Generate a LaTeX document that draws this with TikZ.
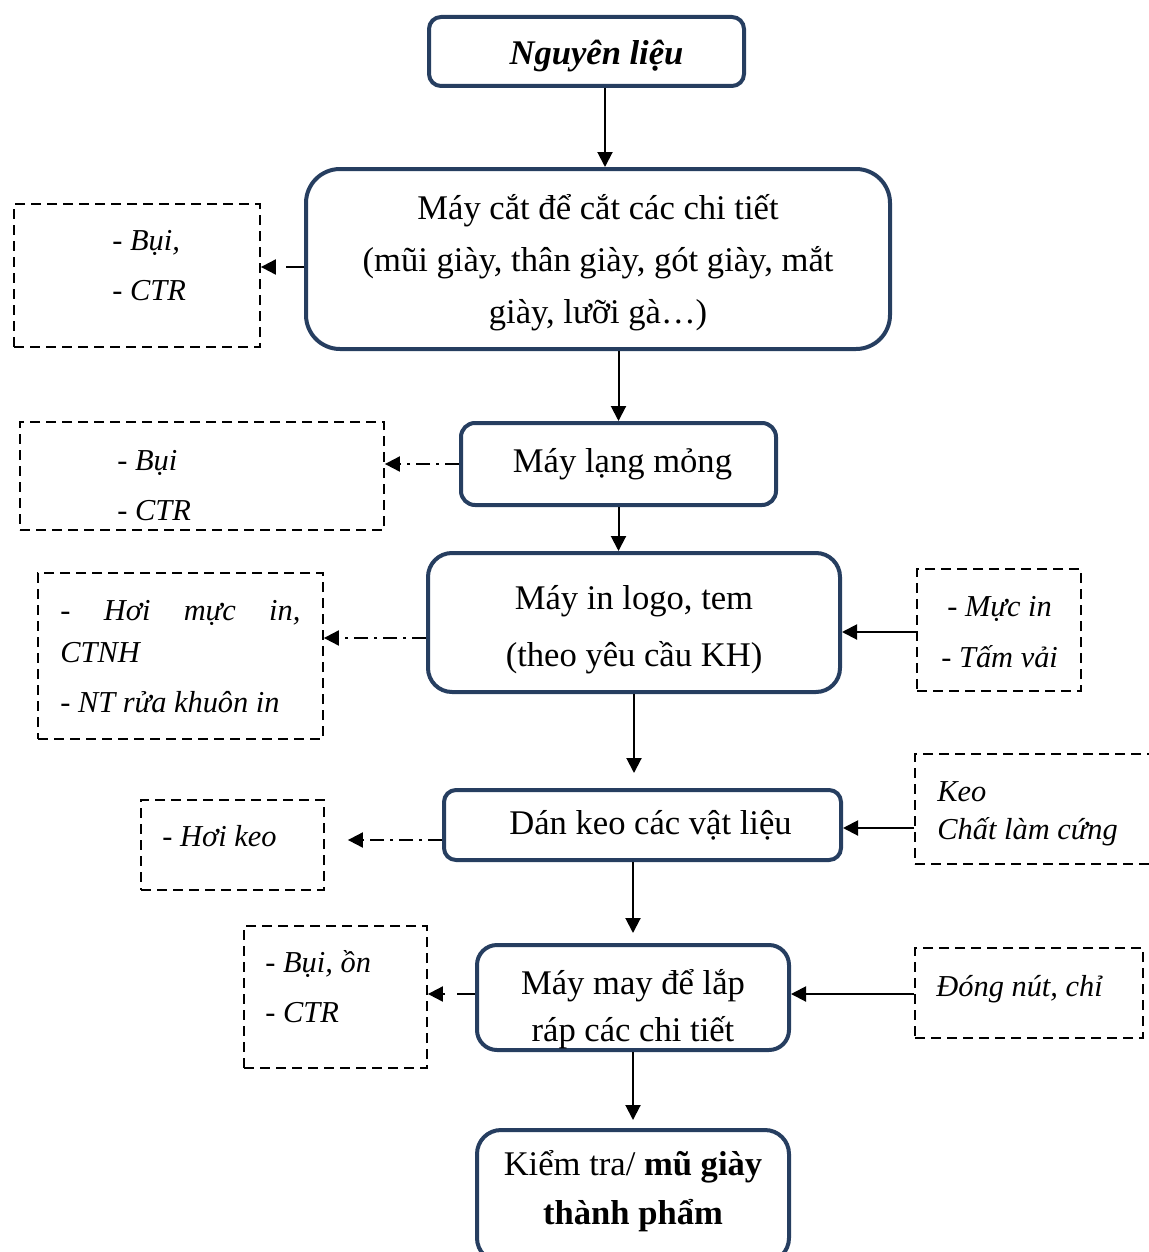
\documentclass[tikz,border=0pt]{standalone}
\usepackage{fontspec}
\setmainfont{Liberation Serif}
\usetikzlibrary{arrows.meta}
\definecolor{boxnavy}{RGB}{38,62,96}
\begin{document}
\begin{tikzpicture}[x=0.5pt,y=-0.5pt,
  proc/.style={draw=boxnavy, line width=2pt, rounded corners=#1, align=center,
    inner sep=0pt, fill=white},
  proc/.default=8pt,
  side/.style={draw=black, line width=0.9pt, dash pattern=on 5pt off 3pt, inner sep=0pt},
  note/.style={anchor=base west, inner sep=0pt, font=\fontsize{15.2}{18}\selectfont\itshape},
  flow/.style={line width=1pt, -{Triangle[length=7.5pt,width=7.5pt]}},
  dashdot/.style={dash pattern=on 7pt off 3pt on 1.5pt off 3pt},
  dashline/.style={dash pattern=on 9pt off 6pt},
]
\useasboundingbox (0,0) rectangle (1149,1252);

% process chain
\node[proc=6pt, minimum width=157.5pt, minimum height=34.5pt,
  font=\fontsize{17.3}{26}\selectfont\bfseries\itshape] (n1) at (586.5,51.5)
  {\rule{0pt}{17pt}\hspace*{10pt}Nguyên liệu};
\node[proc=17pt, minimum width=292pt, minimum height=90pt,
  font=\fontsize{17.3}{26}\selectfont] (n2) at (598,259)
  {\rule{0pt}{16pt}Máy cắt để cắt các chi tiết\\(mũi giày, thân giày, gót giày, mắt\\giày, lưỡi gà…)};
\node[proc=7pt, minimum width=157.5pt, minimum height=41pt,
  font=\fontsize{17.3}{26}\selectfont] (n3) at (618.5,464) {\hspace*{4pt}Máy lạng mỏng};
\node[proc=12pt, minimum width=206pt, minimum height=69.5pt,
  font=\fontsize{17.3}{28.5}\selectfont] (n4) at (634,622.5)
  {\rule{0pt}{19pt}Máy in logo, tem\\(theo yêu cầu KH)};
\node[proc=6pt, minimum width=198.5pt, minimum height=35pt,
  font=\fontsize{17.3}{26}\selectfont] (n5) at (642.5,825) {\hspace*{8pt}Dán keo các vật liệu};
\node[proc=10pt, minimum width=156pt, minimum height=52.5pt,
  font=\fontsize{17.3}{23.5}\selectfont] (n6) at (633,997.5)
  {\rule{0pt}{24.5pt}Máy may để lắp\\ráp các chi tiết};
\node[proc=12pt, minimum width=156pt, minimum height=66pt,
  font=\fontsize{17.3}{24.5}\selectfont] (n7) at (633,1196)
  {Kiểm tra/ \textbf{mũ giày}\\\textbf{thành phẩm}\rule[-9pt]{0pt}{9pt}};

% main flow arrows
\draw[flow] ([xshift=9.25pt]n1.south) -- ([xshift=9.25pt]n1.south |- n2.north);
\draw[flow] (n2.south -| n3.north) -- (n3.north);
\draw[flow] (n3.south) -- (n3.south |- n4.north);
\draw[flow, shorten >=7.5pt] (n4.south) -- (n4.south |- n5.north);
\draw[flow, shorten >=5pt] (n6.north |- n5.south) -- (n6.north);
\draw[flow, shorten >=4pt] (n6.south) -- (n7.north);

% emissions (left)
\node[side, minimum width=123pt, minimum height=71.5pt] (L1) at (137,275.5) {};
\node[note] (L1a) at (112,250) {- Bụi,};
\node[note] (L1b) at (112,300) {- CTR};

\node[side, minimum width=182pt, minimum height=54pt] (L2) at (202,476) {};
\node[note] (L2a) at (117,470) {- Bụi};
\node[note] (L2b) at (117,520) {- CTR};

\node[side, minimum width=142.5pt, minimum height=83pt] (L3) at (180.5,656) {};
\node[note] (L3a) at (60,620) {\makebox[120pt][s]{- Hơi mực in,}};
\node[note] (L3b) at (60,662) {CTNH};
\node[note] (L3c) at (60,712) {- NT rửa khuôn in};

\node[side, minimum width=91.5pt, minimum height=45pt] (L4) at (232.5,845) {};
\node[note] (L4a) at (162,846) {- Hơi keo};

\node[side, minimum width=91.5pt, minimum height=71pt] (L5) at (335.5,997) {};
\node[note] (L5a) at (265,972) {- Bụi, ồn};
\node[note] (L5b) at (265,1022) {- CTR};

% inputs (right)
\node[side, minimum width=82pt, minimum height=61pt] (R1) at (999,630) {};
\node[note] (R1a) at (947,616) {- Mực in};
\node[note] (R1b) at (941,667) {- Tấm vải};

\node[side, minimum width=125pt, minimum height=55pt] (R2) at (1040,809) {};
\node[note] (R2a) at (937,801) {Keo};
\node[note] (R2b) at (937,839) {Chất làm cứng};

\node[side, minimum width=114pt, minimum height=45pt] (R3) at (1029,993) {};
\node[note] (R3a) at (936,996) {Đóng nút, chỉ};

% side arrows
\draw[flow, dashline] ([yshift=-4pt]n2.west) -- ([yshift=4.25pt]L1.east);
\draw[flow, dashdot] (n3.west) -- (n3.west -| L2.east);
\draw[flow, dashdot] ([yshift=-7.75pt]n4.west) -- ([yshift=9pt]L3.east);
\draw[flow, dashdot, shorten >=11.5pt] ([yshift=-7.5pt]n5.west) -- ([yshift=2.5pt]L4.east);
\draw[flow, dashline] ([yshift=1.75pt]n6.west) -- ([yshift=1.5pt]L5.east);

\draw[flow] ([yshift=-1pt]R1.west) -- ([yshift=-4.75pt]n4.east);
\draw[flow] ([yshift=-9.5pt]R2.west) -- ([yshift=-1.5pt]n5.east);
\draw[flow] ([yshift=-0.5pt]R3.west) -- ([yshift=1.75pt]n6.east);
\end{tikzpicture}
\end{document}
